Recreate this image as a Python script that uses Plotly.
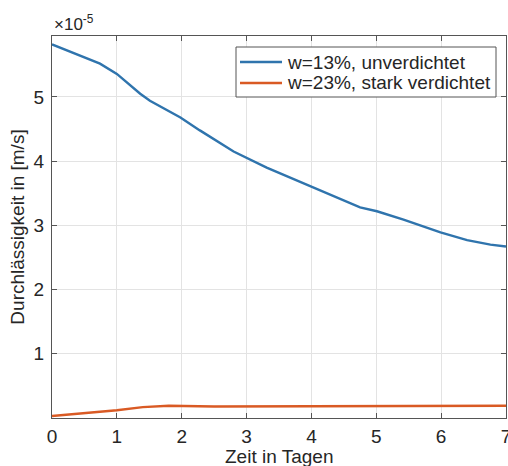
import plotly.graph_objects as go

# Zeit in Tagen
t_blue = [0, 0.74, 1.0, 1.36, 1.51, 1.98, 2.28, 2.44, 2.80, 3.31, 3.98, 4.60, 4.75,
          5.01, 5.42, 5.99, 6.40, 6.76, 7.0]
# Durchlässigkeit (x 1e-5 m/s)
k_blue = [5.82, 5.52, 5.36, 5.05, 4.94, 4.68, 4.48, 4.38, 4.15, 3.90, 3.61, 3.35, 3.28,
          3.22, 3.09, 2.89, 2.77, 2.70, 2.67]

t_orange = [0, 0.5, 1.0, 1.4, 1.8, 2.5, 3.0, 4.0, 5.0, 6.0, 7.0]
k_orange = [0.03, 0.07, 0.12, 0.17, 0.19, 0.18, 0.18, 0.18, 0.19, 0.19, 0.19]

name_blue = "w=13%, unverdichtet"
name_orange = "w=23%, stark verdichtet"
x_title = "Zeit in Tagen"
y_title = "Durchlässigkeit in [m/s]"

x_ticks = [0, 1, 2, 3, 4, 5, 6, 7]
y_ticks = [1, 2, 3, 4, 5]

FONT = "Liberation Sans, Arial, sans-serif"
C_BLUE = "#2f74ad"
C_ORANGE = "#d95a24"
C_AXIS = "#555555"
C_TEXT = "#262626"

fig = go.Figure()
fig.add_trace(go.Scatter(x=t_blue, y=k_blue, mode="lines", name=name_blue,
                         line=dict(color=C_BLUE, width=2.4), showlegend=False))
fig.add_trace(go.Scatter(x=t_orange, y=k_orange, mode="lines", name=name_orange,
                         line=dict(color=C_ORANGE, width=2.4), showlegend=False))

axis_common = dict(
    showline=True, linecolor=C_AXIS, linewidth=1, mirror="allticks",
    ticks="inside", ticklen=5, tickcolor=C_AXIS,
    showgrid=True, gridcolor="#e3e3e3", gridwidth=1, zeroline=False,
    tickfont=dict(family=FONT, size=19, color=C_TEXT),
    ticklabeloverflow="allow", automargin=False,
)

# manual MATLAB-style legend box (paper coordinates)
leg_x0, leg_x1, leg_y0, leg_y1 = 0.4053, 0.978, 0.8403, 0.9712
line_x0, line_x1, text_x = 0.4141, 0.5066, 0.5132
rows = [(0.9319, C_BLUE, name_blue), (0.8770, C_ORANGE, name_orange)]

shapes = [dict(type="rect", xref="paper", yref="paper", x0=leg_x0, x1=leg_x1,
               y0=leg_y0, y1=leg_y1, fillcolor="white",
               line=dict(color=C_AXIS, width=1), layer="above")]
annotations = [
    dict(text="×10<sup>-5</sup>", xref="paper", yref="paper",
         x=0, y=1, xanchor="left", yanchor="bottom", xshift=0, yshift=0,
         showarrow=False, font=dict(family=FONT, size=17, color=C_TEXT)),
    dict(text=x_title, xref="paper", yref="paper", x=0.5, y=0,
         xanchor="center", yanchor="middle", yshift=-38,
         showarrow=False, font=dict(family=FONT, size=19, color=C_TEXT)),
]
for ry, col, nm in rows:
    shapes.append(dict(type="line", xref="paper", yref="paper", x0=line_x0, x1=line_x1,
                       y0=ry, y1=ry, line=dict(color=col, width=2.4), layer="above"))
    annotations.append(dict(text=nm, xref="paper", yref="paper", x=text_x, y=ry,
                            xanchor="left", yanchor="middle", showarrow=False,
                            font=dict(family=FONT, size=19, color=C_TEXT)))

fig.update_layout(
    width=508, height=466,
    margin=dict(l=52, r=2, t=36, b=48),
    paper_bgcolor="white", plot_bgcolor="white",
    font=dict(family=FONT, size=19, color=C_TEXT),
    xaxis=dict(range=[0, 7], tickvals=x_ticks, ticklabelstandoff=1, **axis_common),
    yaxis=dict(range=[0, 5.95], tickvals=y_ticks, ticklabelstandoff=3,
               title=dict(text=y_title, font=dict(size=19), standoff=3),
               **axis_common),
    showlegend=False,
    shapes=shapes,
    annotations=annotations,
)

fig.write_html("out.html")
